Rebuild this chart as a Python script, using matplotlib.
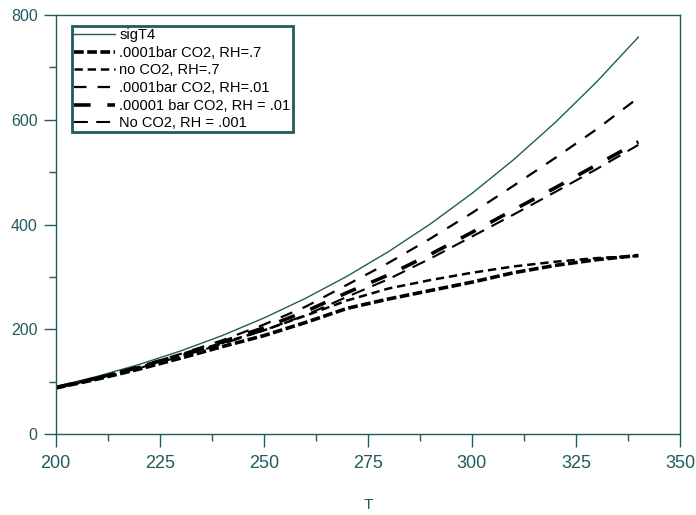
import matplotlib
matplotlib.use("Agg")
import matplotlib.pyplot as plt
from matplotlib.ticker import MultipleLocator
import numpy as np

INK = "#1f5c5c"

# temperature grid (K) and OLR curves (W/m^2)
T = [200, 210, 220, 230, 240, 250, 260, 270, 280, 290, 300, 310, 320, 330, 340]
sigT4 = [90.7, 110.3, 132.8, 158.7, 188.1, 221.5, 259.1, 301.3, 348.5, 401.0,
         459.3, 523.6, 594.6, 672.4, 757.7]
co2_4_rh07 = [88, 105, 124, 145, 167, 188, 213, 240, 258, 274, 290, 308, 322, 333, 341]
noco2_rh07 = [89, 107, 128, 150, 174, 198, 226, 255, 278, 294, 308, 320, 329, 336, 340]
co2_4_rh001 = [89, 108, 129, 153, 179, 209, 243, 285, 327, 373, 422, 474, 527, 582, 642]
co2_5_rh001 = [89, 107, 128, 151, 176, 203, 234, 270, 304, 343, 385, 428, 470, 514, 558]
noco2_rh0001 = [88, 106, 126, 148, 172, 198, 227, 262, 296, 335, 377, 419, 462, 506, 552]

LABELS = ["sigT4", ".0001bar CO2, RH=.7", "no CO2, RH=.7", ".0001bar CO2, RH=.01",
          ".00001 bar CO2, RH = .01", "No CO2, RH = .001"]

plt.rcParams["font.family"] = ["Liberation Sans", "DejaVu Sans"]
plt.rcParams["lines.scale_dashes"] = False

fig = plt.figure(figsize=(6.96, 5.15), dpi=100)
ax = fig.add_axes([0.080, 0.157, 0.897, 0.814])

ax.plot(T, sigT4, color=INK, lw=1.0, label=LABELS[0])
ax.plot(T, co2_4_rh07, color="black", lw=2.6, dashes=(7, 2.5), label=LABELS[1])
ax.plot(T, noco2_rh07, color="black", lw=1.8, dashes=(6, 3.5), label=LABELS[2])
ax.plot(T, co2_4_rh001, color="black", lw=1.6, dashes=(9, 8), label=LABELS[3])
ax.plot(T, co2_5_rh001, color="black", lw=2.6, dashes=(12, 12), label=LABELS[4])
ax.plot(T, noco2_rh0001, color="black", lw=1.5, dashes=(10, 6), label=LABELS[5])

ax.set_xlim(200, 350)
ax.set_ylim(0, 800)
ax.xaxis.set_major_locator(MultipleLocator(25))
ax.xaxis.set_minor_locator(MultipleLocator(12.5))
ax.yaxis.set_major_locator(MultipleLocator(200))
ax.yaxis.set_minor_locator(MultipleLocator(100))
ax.tick_params(axis="both", which="both", direction="out", colors=INK, width=1.0)
ax.tick_params(axis="x", which="major", length=9, labelsize=13, pad=6)
ax.tick_params(axis="x", which="minor", length=5)
ax.tick_params(axis="y", which="major", length=9, labelsize=11.5, pad=4)
ax.tick_params(axis="y", which="minor", length=5)
for s in ax.spines.values():
    s.set_color(INK)
    s.set_linewidth(1.0)

ax.set_xlabel("T", fontsize=11, color=INK, labelpad=19)

leg = ax.legend(loc="upper left", bbox_to_anchor=(0.026, 0.974), borderaxespad=0,
                fontsize=10.5, handlelength=2.8, handletextpad=0.3, labelspacing=0.25,
                borderpad=0.15, fancybox=False, framealpha=1)
leg.get_frame().set_edgecolor(INK)
leg.get_frame().set_linewidth(2.0)

fig.savefig("out.png", dpi=100)
